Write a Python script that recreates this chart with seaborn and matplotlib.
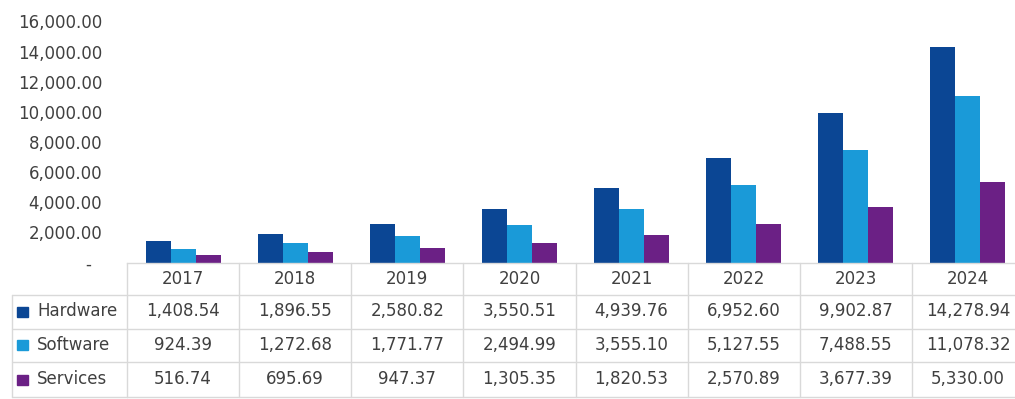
import matplotlib
matplotlib.use("Agg")
import matplotlib.pyplot as plt
from matplotlib.lines import Line2D
from matplotlib.patches import Rectangle
from matplotlib import transforms
import pandas as pd
import seaborn as sns

# Market size by segment and year
years = ["2017", "2018", "2019", "2020", "2021", "2022", "2023", "2024"]
hardware = [1408.54, 1896.55, 2580.82, 3550.51, 4939.76, 6952.60, 9902.87, 14278.94]
software = [924.39, 1272.68, 1771.77, 2494.99, 3555.10, 5127.55, 7488.55, 11078.32]
services = [516.74, 695.69, 947.37, 1305.35, 1820.53, 2570.89, 3677.39, 5330.00]
segments = ["Hardware", "Software", "Services"]
y_ticks = [0, 2000, 4000, 6000, 8000, 10000, 12000, 14000, 16000]

colors = {"Hardware": "#0b4694", "Software": "#1a9ad8", "Services": "#6b2085"}
text_color = "#404040"
grid_color = "#d9d9d9"

series = dict(zip(segments, [hardware, software, services]))
df = pd.DataFrame(
    [(y, s, v) for s in segments for y, v in zip(years, series[s])],
    columns=["year", "segment", "value"],
)

sns.set_style("white")
plt.rcParams["font.family"] = ["DejaVu Sans"]

W, H = 1015, 399
fig = plt.figure(figsize=(W / 100, H / 100), dpi=100)


def fx(px):
    return px / W


def fy(py):
    return (H - py) / H


ax_left, ax_right = 127, 1024
zero_y, top_y = 262.6, 21.5
ax = fig.add_axes([fx(ax_left), fy(zero_y), fx(ax_right - ax_left), (zero_y - top_y) / H])

sns.barplot(
    data=df, x="year", y="value", hue="segment", order=years, hue_order=segments,
    palette=colors, width=0.67, saturation=1, legend=False, linewidth=0, ax=ax,
)
ax.set_xlim(-0.5, len(years) - 0.5)
ax.set_ylim(0, 16000)
ax.set_yticks(y_ticks)
ax.set_yticklabels(["-  " if t == 0 else f"{t:,.2f}" for t in y_ticks],
                   fontsize=12, color=text_color)
ax.tick_params(axis="y", length=0, pad=18)
ax.set_xticks([])
ax.set_xlabel("")
ax.set_ylabel("")
for side in ["left", "top", "right"]:
    ax.spines[side].set_visible(False)
ax.spines["bottom"].set_color(grid_color)
ax.spines["bottom"].set_linewidth(1)

# Data table beneath the bars
tx = transforms.blended_transform_factory(ax.transData, fig.transFigure)
row_edges = [zero_y, 294.5, 328.5, 362, 397]
label_left = 12


def hline(x0, x1, y, trans=fig.transFigure):
    fig.add_artist(Line2D([x0, x1], [fy(y), fy(y)], transform=trans,
                          color=grid_color, lw=1, clip_on=False))


def vline(x, y0, y1, trans=fig.transFigure):
    fig.add_artist(Line2D([x, x], [fy(y0), fy(y1)], transform=trans,
                          color=grid_color, lw=1, clip_on=False))


for y in row_edges[1:]:
    hline(fx(label_left), fx(ax_left), y)
    hline(-0.5, len(years) - 0.5, y, trans=tx)
vline(fx(label_left), row_edges[1], row_edges[-1])
for i in range(len(years) + 1):
    vline(i - 0.5, row_edges[0], row_edges[-1], trans=tx)

header_y = (row_edges[0] + row_edges[1]) / 2
for i, yr in enumerate(years):
    fig.text(i, fy(header_y), yr, transform=tx, ha="center", va="center",
             fontsize=12, color=text_color)

for r, seg in enumerate(segments):
    cy = (row_edges[r + 1] + row_edges[r + 2]) / 2
    fig.add_artist(Rectangle((fx(17), fy(cy + 5)), fx(11), 10 / H,
                             transform=fig.transFigure, color=colors[seg]))
    fig.text(fx(37), fy(cy), seg, ha="left", va="center",
             fontsize=12, color=text_color)
    for i, v in enumerate(series[seg]):
        fig.text(i, fy(cy), f"{v:,.2f}", transform=tx, ha="center", va="center",
                 fontsize=12, color=text_color)

fig.savefig("out.png", dpi=100)
